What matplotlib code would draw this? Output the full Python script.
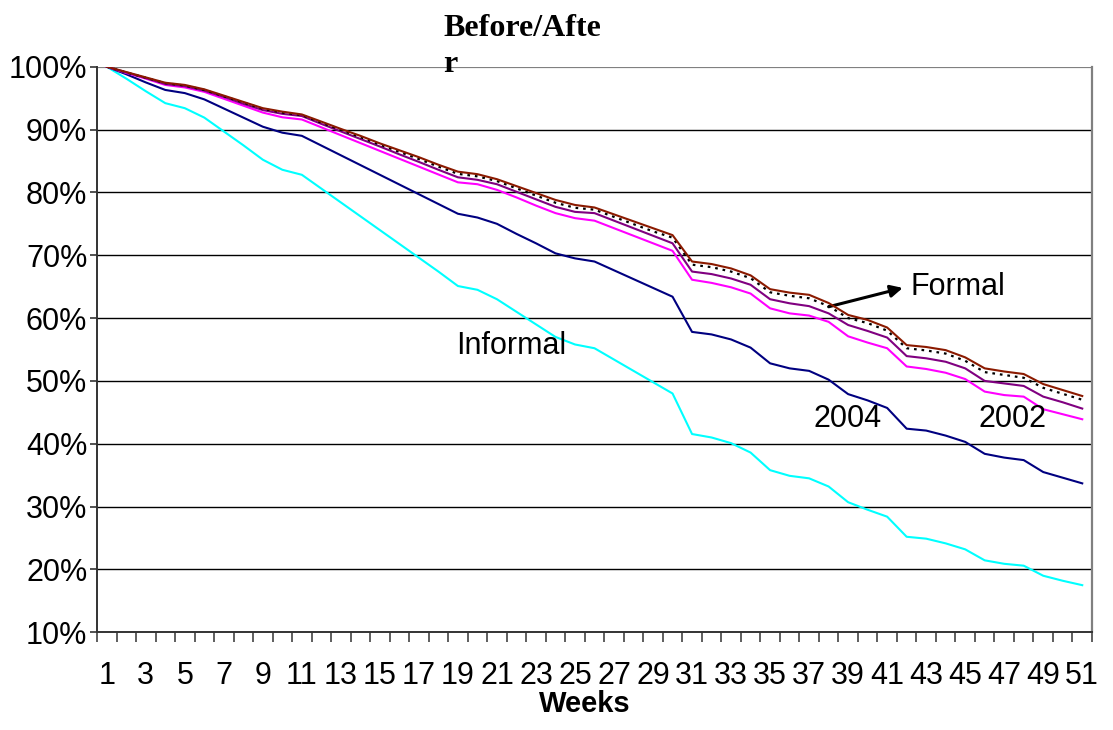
import matplotlib
matplotlib.use("Agg")
import matplotlib.pyplot as plt
from matplotlib.ticker import FixedLocator, FuncFormatter

plt.rcParams['font.family'] = ['Liberation Sans', 'DejaVu Sans']

weeks = list(range(1, 52))

formal_top = [100, 99.15, 98.3, 97.45, 97.1, 96.4, 95.4, 94.4, 93.4, 92.85,
              92.4, 91.26, 90.1, 89.0, 87.8, 86.7, 85.6, 84.4, 83.3, 82.9,
              82.1, 81.0, 79.9, 78.8, 78.0, 77.6, 76.5, 75.4, 74.3, 73.2,
              69.0, 68.6, 67.9, 66.8, 64.6, 64.05, 63.7, 62.4, 60.5, 59.7,
              58.5, 55.7, 55.4, 54.9, 53.75, 52.0, 51.5, 51.1, 49.5, 48.55,
              47.6]

before_after = [100, 99.1, 98.25, 97.4, 97.0, 96.3, 95.3, 94.3, 93.3, 92.7,
                92.3, 91.1, 89.95, 88.8, 87.6, 86.45, 85.3, 84.1, 82.95, 82.55,
                81.8, 80.65, 79.5, 78.35, 77.55, 77.25, 76.1, 74.95, 73.8, 72.8,
                68.5, 68.1, 67.4, 66.35, 64.1, 63.55, 63.15, 61.9, 60.0, 59.2,
                58.0, 55.2, 54.85, 54.35, 53.2, 51.4, 50.95, 50.5, 48.9, 47.95,
                47.0]

formal_purple = [100, 99.1, 98.2, 97.25, 96.9, 96.2, 95.2, 94.1, 93.1, 92.5,
                 92.15, 90.9, 89.7, 88.5, 87.3, 86.05, 84.85, 83.6, 82.4, 82.0,
                 81.3, 80.1, 78.9, 77.7, 76.9, 76.7, 75.5, 74.3, 73.1, 71.9,
                 67.4, 67.0, 66.3, 65.3, 63.0, 62.35, 61.9, 60.75, 58.9, 57.95,
                 56.9, 53.95, 53.6, 53.05, 52.0, 50.0, 49.6, 49.2, 47.5, 46.6,
                 45.6]

formal_2002 = [100, 99.0, 98.1, 97.1, 96.7, 96.0, 94.9, 93.8, 92.7, 91.95,
               91.6, 90.35, 89.1, 87.85, 86.6, 85.35, 84.1, 82.85, 81.6, 81.3,
               80.4, 79.2, 77.9, 76.7, 75.9, 75.5, 74.3, 73.1, 71.9, 70.7,
               66.1, 65.6, 64.9, 63.9, 61.55, 60.75, 60.4, 59.4, 57.1, 56.1,
               55.2, 52.3, 51.9, 51.3, 50.3, 48.3, 47.75, 47.5, 45.5, 44.7,
               43.9]

series_2004 = [100, 98.8, 97.5, 96.3, 95.8, 94.8, 93.35, 91.9, 90.45, 89.5,
               89.0, 87.45, 85.9, 84.35, 82.8, 81.25, 79.7, 78.15, 76.6, 76.0,
               75.0, 73.4, 71.9, 70.3, 69.5, 69.0, 67.6, 66.2, 64.8, 63.4,
               57.8, 57.4, 56.6, 55.3, 52.8, 52.0, 51.6, 50.2, 47.9, 46.9,
               45.7, 42.4, 42.1, 41.3, 40.3, 38.4, 37.8, 37.4, 35.5, 34.6,
               33.7]

informal = [100, 98.1, 96.1, 94.2, 93.4, 91.9, 89.7, 87.5, 85.2, 83.6,
            82.8, 80.6, 78.4, 76.2, 74.0, 71.8, 69.6, 67.4, 65.1, 64.5,
            63.0, 61.0, 59.0, 57.0, 55.8, 55.2, 53.4, 51.6, 49.8, 48.0,
            41.55, 41.0, 40.1, 38.6, 35.8, 34.9, 34.5, 33.2, 30.7, 29.5,
            28.4, 25.2, 24.9, 24.15, 23.2, 21.45, 20.9, 20.6, 19.0, 18.2,
            17.5]

y_ticks = [10, 20, 30, 40, 50, 60, 70, 80, 90, 100]

W, H = 1113, 730
fig = plt.figure(figsize=(W / 100, H / 100), dpi=100)
ax = fig.add_axes([97 / W, 1 - 632.3 / H, (1092 - 97) / W, (632.3 - 66.7) / H])

# horizontal grid lines
for v in y_ticks:
    ax.axhline(v, color='black' if v != 100 else '#808080',
               lw=1.0 if v != 100 else 1.6, zorder=1)

lw = 1.5
ax.plot(weeks, informal, color='#00FFFF', lw=lw, zorder=3)
ax.plot(weeks, series_2004, color='#000080', lw=lw, zorder=3)
ax.plot(weeks, formal_2002, color='#FF00FF', lw=lw, zorder=3)
ax.plot(weeks, formal_purple, color='#800080', lw=lw, zorder=3)
ax.plot(weeks, before_after, color='black', lw=1.6,
        linestyle=(0, (1.2, 2.2)), zorder=4)
ax.plot(weeks, formal_top, color='#8B1A00', lw=lw, zorder=5)

ax.set_xlim(0.5, 51.5)
ax.set_ylim(10, 100)

ax.yaxis.set_major_locator(FixedLocator(y_ticks))
ax.yaxis.set_major_formatter(FuncFormatter(lambda v, p: f"{int(v)}%"))
ax.tick_params(axis='y', direction='out', length=5, width=1.2,
               labelsize=22, pad=2, color='#333333')

ax.xaxis.set_major_locator(FixedLocator(weeks[::2]))
ax.xaxis.set_major_formatter(FuncFormatter(lambda v, p: f"{int(v)}"))
ax.xaxis.set_minor_locator(FixedLocator([w + 0.5 for w in range(0, 52)]))
ax.tick_params(axis='x', which='major', length=0, labelsize=22, pad=21)
ax.tick_params(axis='x', which='minor', direction='out', length=7,
               width=1.1, color='#333333')

ax.spines['top'].set_visible(False)
ax.spines['right'].set_color('#808080')
ax.spines['right'].set_linewidth(1.6)
ax.spines['left'].set_color('#333333')
ax.spines['left'].set_linewidth(1.4)
ax.spines['bottom'].set_color('#333333')
ax.spines['bottom'].set_linewidth(1.4)

# series labels
ax.text(18.9, 55.5, "Informal", fontsize=22, va='center', ha='left')
ax.text(42.2, 65.0, "Formal", fontsize=22, va='center', ha='left')
ax.text(37.2, 44.0, "2004", fontsize=22, va='center', ha='left')
ax.text(45.7, 44.0, "2002", fontsize=22, va='center', ha='left')
ax.annotate("", xy=(41.8, 64.8), xytext=(38.0, 61.8),
            arrowprops=dict(arrowstyle='-|>', color='black', lw=2.2,
                            mutation_scale=18, shrinkA=0, shrinkB=0))

fig.text(443 / W, 1 - 14 / H, "Before/Afte\nr", fontsize=23, fontweight='bold',
         family=['Liberation Serif', 'DejaVu Serif'], ha='left', va='top',
         linespacing=1.3)
fig.text(585 / W, 1 - 704 / H, "Weeks", fontsize=21, fontweight='bold',
         ha='center', va='center')

fig.savefig("out.png", dpi=100)
